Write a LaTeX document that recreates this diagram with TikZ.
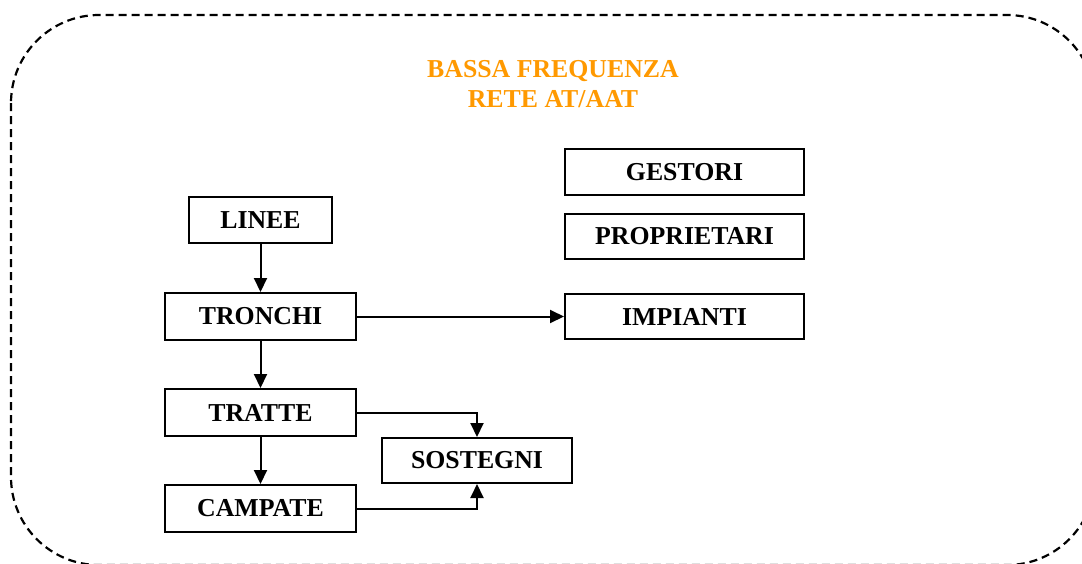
\documentclass[tikz,border=0pt]{standalone}
\usepackage{fontspec}
\setmainfont{Liberation Serif}
\usetikzlibrary{arrows.meta}
\definecolor{titleorange}{HTML}{FF9900}
\begin{document}
\begin{tikzpicture}[x=1pt,y=-1pt,
  box/.style={draw, line width=2pt, inner sep=0pt, font=\fontsize{25.8}{30}\selectfont\bfseries},
  arr/.style={line width=2pt, -{Triangle[length=14pt,width=13pt]}}]
\useasboundingbox (0,0) rectangle (1082,563);
\begin{scope}
  \clip (0,0) rectangle (1082,563);
  \draw[dash pattern=on 8pt off 5pt, line width=2.2pt, rounded corners=88pt] (11,15) rectangle (1095,565);
\end{scope}
\node[font=\fontsize{25.8}{30}\selectfont\bfseries, text=titleorange, align=center] (title) at (553,84) {BASSA FREQUENZA\\RETE AT/AAT};
\node[box, minimum width=143pt, minimum height=46pt] (linee) at (260.5,220) {LINEE};
\node[box, minimum width=191pt, minimum height=47pt] (tronchi) at (260.5,316.5) {TRONCHI};
\node[box, minimum width=191pt, minimum height=47pt] (tratte) at (260.5,412.5) {TRATTE};
\node[box, minimum width=191pt, minimum height=47pt] (campate) at (260.5,508.5) {CAMPATE};
\node[box, minimum width=190pt, minimum height=45pt] (sostegni) at (477,460.5) {SOSTEGNI};
\node[box, minimum width=239pt, minimum height=46pt] (gestori) at (684.5,172) {GESTORI};
\node[box, minimum width=239pt, minimum height=45pt] (proprietari) at (684.5,236.5) {PROPRIETARI};
\node[box, minimum width=239pt, minimum height=45pt] (impianti) at (684.5,316.5) {IMPIANTI};
\draw[arr] (linee) -- (tronchi);
\draw[arr] (tronchi) -- (tratte);
\draw[arr] (tratte) -- (campate);
\draw[arr] (tronchi) -- (impianti);
\draw[arr] (tratte.east) -| (sostegni.north);
\draw[arr] (campate.east) -| (sostegni.south);
\end{tikzpicture}
\end{document}
